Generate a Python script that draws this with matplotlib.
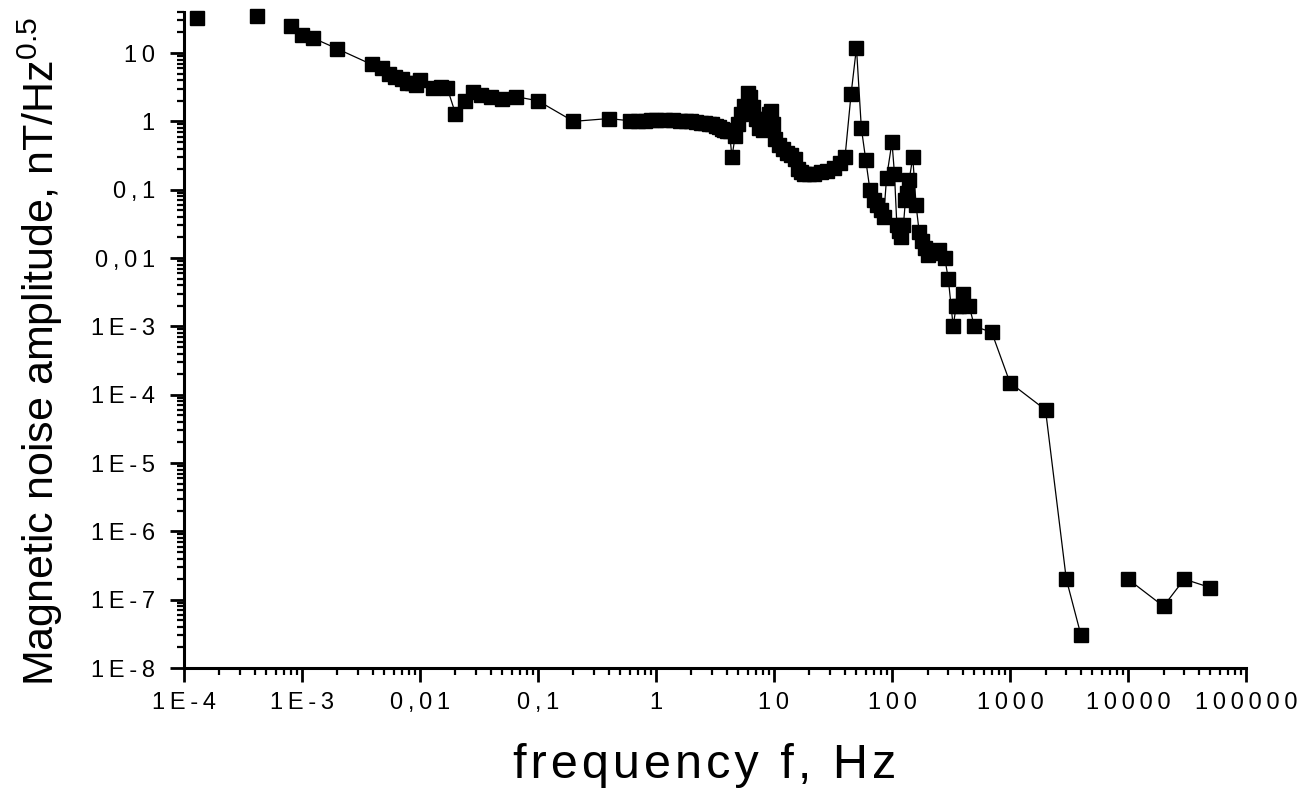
import numpy as np
import matplotlib
matplotlib.use("Agg")
import matplotlib.pyplot as plt
from matplotlib.ticker import FixedLocator, FixedFormatter, LogLocator, NullFormatter

plt.rcParams['font.family'] = ['Liberation Sans', 'DejaVu Sans']
plt.rcParams['mathtext.fontset'] = 'custom'
plt.rcParams['mathtext.rm'] = 'Liberation Sans'

# Дані (частота, Гц / амплітуда шуму, нТл/Гц^0.5); nan розриває лінію
freq = [1.3e-4, np.nan, 4.2e-4, np.nan,
        8.0e-4, 1.0e-3, 1.25e-3, 2.0e-3, 3.9e-3, 4.8e-3, 5.5e-3, 6.2e-3, 7.0e-3,
        7.8e-3, 8.5e-3, 9.3e-3, 1.0e-2, 1.3e-2, 1.5e-2, 1.7e-2, 2.0e-2, 2.4e-2,
        2.8e-2, 3.3e-2, 4.0e-2, 5.0e-2, 6.5e-2, 0.1, 0.2, 0.4,
        0.6, 0.7, 0.8, 0.9, 1.0, 1.2, 1.4, 1.6, 1.8, 2.0, 2.2, 2.4, 2.6, 2.8,
        3.0, 3.2, 3.4, 3.6, 3.8, 4.0, 4.2, 4.4, 4.7, 5.0, 5.3, 5.6, 6.0, 6.3,
        6.6, 7.0, 7.5, 8.0, 8.5, 9.0, 9.5, 9.8, 10.2, 11, 12, 13, 14, 15, 16,
        17, 18, 20, 22, 25, 28, 32, 36, 40, 45, 50, 55, 60, 65, 70, 75, 80,
        85, 90, 100, 105, 110, 115, 120, 125, 130, 135, 140, 150, 160, 170,
        180, 190, 200, 220, 250, 280, 300, 330, 350, 370, 400, 450, 500, 700,
        1000, 2000, 3000, 4000, np.nan,
        10000, 20000, 30000, 50000]
amp = [33, np.nan, 35, np.nan,
       25, 18.5, 16.5, 11.5, 6.8, 6.0, 5.0, 4.5, 4.2,
       3.7, 3.6, 3.4, 4.0, 3.1, 3.2, 3.1, 1.3, 2.0,
       2.7, 2.4, 2.3, 2.1, 2.3, 2.0, 1.0, 1.1,
       1.02, 1.02, 1.02, 1.03, 1.03, 1.03, 1.03, 1.02, 1.0, 1.0, 0.98, 0.96, 0.95, 0.92,
       0.9, 0.86, 0.82, 0.78, 0.75, 0.73, 0.72, 0.3, 0.62, 0.9, 1.3, 1.7, 2.6, 2.3,
       1.6, 1.1, 0.8, 0.75, 1.1, 1.3, 1.4, 0.9, 0.55, 0.45, 0.4, 0.35, 0.32, 0.28, 0.2,
       0.18, 0.17, 0.17, 0.17, 0.18, 0.19, 0.21, 0.25, 0.3, 2.5, 12, 0.8, 0.27, 0.1, 0.07, 0.06, 0.05,
       0.04, 0.15, 0.5, 0.17, 0.03, 0.025, 0.02, 0.03, 0.07, 0.09, 0.14, 0.3, 0.06, 0.024,
       0.018, 0.014, 0.011, 0.012, 0.013, 0.01, 0.005, 0.001, 0.002, 0.002, 0.003, 0.002, 0.001, 8.2e-4,
       1.5e-4, 6e-5, 2e-7, 3e-8, np.nan,
       2e-7, 8e-8, 2e-7, 1.5e-7]

xticks = [1e-4, 1e-3, 1e-2, 1e-1, 1, 10, 100, 1000, 10000, 100000]
xtick_labels = ["1E-4", "1E-3", "0,01", "0,1", "1", "10", "100", "1000", "10000", "100000"]
yticks = [1e-8, 1e-7, 1e-6, 1e-5, 1e-4, 1e-3, 1e-2, 1e-1, 1, 10]
ytick_labels = ["1E-8", "1E-7", "1E-6", "1E-5", "1E-4", "1E-3", "0,01", "0,1", "1", "10"]


def spaced(s, gap="\u2009"):
    # розрідження літер, як в оригіналі
    return gap.join(s)


fig = plt.figure(figsize=(12.99, 7.93), dpi=100)
ax = fig.add_axes([0.1416, 0.1576, 0.8176, 0.8274])

ax.plot(freq, amp, color="black", linewidth=0.9, marker="s", markersize=10,
        markerfacecolor="black", markeredgecolor="black", clip_on=False)

ax.set_xscale("log")
ax.set_yscale("log")
ax.set_xlim(1e-4, 1e5)
ax.set_ylim(1e-8, 40)

ax.xaxis.set_major_locator(FixedLocator(xticks))
ax.xaxis.set_major_formatter(FixedFormatter([spaced(s) for s in xtick_labels]))
ax.yaxis.set_major_locator(FixedLocator(yticks))
ax.yaxis.set_major_formatter(FixedFormatter([spaced(s) for s in ytick_labels]))
ax.xaxis.set_minor_locator(LogLocator(base=10, subs=np.arange(2, 10), numticks=20))
ax.yaxis.set_minor_locator(LogLocator(base=10, subs=np.arange(2, 10), numticks=20))
ax.xaxis.set_minor_formatter(NullFormatter())
ax.yaxis.set_minor_formatter(NullFormatter())

for side in ["top", "right"]:
    ax.spines[side].set_visible(False)
for side in ["left", "bottom"]:
    ax.spines[side].set_linewidth(2.2)

ax.tick_params(which="major", direction="out", length=10, width=2, labelsize=17)
ax.tick_params(axis="x", which="major", pad=7)
ax.tick_params(axis="y", which="major", pad=11)
ax.tick_params(which="minor", direction="out", length=5, width=1.6)

ax.set_xlabel(spaced("frequency f, Hz", "\u200a"), fontsize=35)
ax.xaxis.set_label_coords(0.49, -0.115)
ax.set_ylabel(r"Magnetic noise amplitude, nT/Hz$^{0.5}$", fontsize=31)
ax.yaxis.set_label_coords(-0.112, 0.482)

fig.savefig("out.png", dpi=100)
